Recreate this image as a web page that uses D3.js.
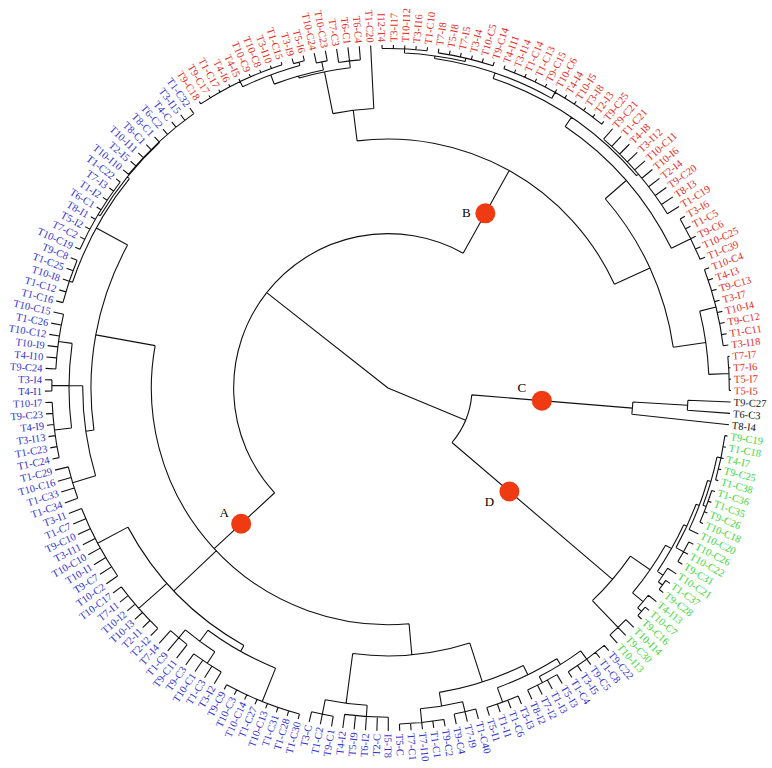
<!DOCTYPE html>
<html>
<head>
<meta charset="utf-8">
<script src="https://cdn.jsdelivr.net/npm/d3@7"></script>
<style>
  body { margin: 0; background: #fff; }
  text { font-family: 'Liberation Serif', 'Times New Roman', serif; }
</style>
</head>
<body>
<div id="chart"></div>
<script>
(function () {

  // Clades written as nested groups; the number after ")" is the node's
  // distance from the root (0 = root, 100 = leaf tips)
  var cladeA = `(
    (
      (
        (((T9-C22,T1-C8,T9-C5,T3-I5,T1-C4)98,(T5-I3,T1-I3,T7-I2,T8-I2)97)95,(T3-I3,T1-C6,T1-I1,T5-I1)97.5)93,
        ((T1-C40,T7-I9,T9-C4)97,(T9-C2,T1-C1,T7-I10,T7-C1,T5-C)98)94
      )90,
      ((I5-T8,T2-C,T6-I2,T5-I9,T4-I2)96,(T9-C1,T1-C2,T3-C)97)92.7
    )78.1,
    (
      (
        (T1-C30,T1-C28,T1-C31,T10-C13,T1-C27,T10-C14,T10-C3,T9-C9)98.5,
        ((T3-I2,T1-C3,T10-C1,T9-C3)96,(T9-C11,T1-C9,T7-I4)95)92
      )88,
      (T2-I2,T2-I1,T10-I3,T10-I2,T7-I1,T10-C17)97,
      (T10-C2,T9-C7,T10-I1,T10-C10,T3-I11,T9-C10,T1-C7,T3-I1)96
    )86,
    (
      (
        (T1-C34,T1-C33,T10-C16,T1-C29)96,
        ((T1-C24,T1-C23,T3-I13,T4-I9,T9-C23,T10-I7)98,(T4-I1,T3-I4)98,(T9-C24,T4-I10,T10-I9,T10-C12,T1-C26,T10-C15)97)93
      )89,
      (
        (T1-C16,T1-C12,T10-I8,T1-C25,T9-C8)98,
        ((T10-C19,T7-C2,T5-I2,T8-I1,T6-C1,T1-I2,T7-I3,T1-C22)98.5,(T10-I10,T2-I5,T10-I11,T8-C1,T8-C1,T6-C2,T4-C,T3-I15,T1-C32)98)97.8
      )97
    )86.6
  )69`

  var cladeB = `(
    (
      (
        (
          ((T9-C18,T9-C17,T1-C17,T4-I6,T4-I5,T10-C9,T10-C8,T3-I10,T1-C15)99.2,(T3-I9,T5-I6)98.5)97.5,
          (T10-C24,T10-C23)97
        )94.6,
        (T7-C3,T6-C1,T6-C4)96
      )94,
      T1-C20
    )81.6,
    (
      (
        (
          (
            ((I12-T4,T3-I17,T10-I12,T3-I16,T1-C10)99,(T7-I8,T5-I8,T7-I5,T3-I4,T10-C5,T9-C14)98.8)97.8,
            (T4-I11,T3-I14,T1-C14,T1-C13,T9-C15,T10-C6,T4-I4,T10-I5,T3-I8,T2-I3,T9-C25)99
          )97,
          (T9-C21,T1-C21,T4-I8,T3-I12,T10-C11,T10-I6,T2-I4,T9-C20,T8-I3,T1-C19)96
        )95.3,
        (T3-I6,T1-C5,T9-C6,T10-C25,T1-C39)98.4
      )92.1,
      ((T10-C4,T4-I3,T9-C13,T3-I7,T10-I4,T9-C12,T1-C11,T3-I18)98.5,(T7-I7,T7-I6,T5-I7,T5-I5)99.5)93.6
    )84
  )72.6`

  var cladeC = `((T9-C27,T6-C3)87.5,T8-I4)71.5`

  var cladeD = `(
    (
      (
        (
          (((T9-C19,T1-C18,T4-I7,T9-C25,T1-C38)99.2,(T1-C36,T1-C35,T9-C26,T10-C18)99)98,T10-C20)97,
          (T10-C26,T10-C22,T9-C31)98.5
        )96,
        (T10-C21,(T1-C37,T9-C28)98.5)97
      )95,
      (T4-I13,(T10-C7,T9-C16)98.5)97
    )93,
    (T10-I14,T9-C30,T10-I13)96.8
  )86`

  var cladeNames  = ['A', 'B', 'C', 'D']
  var cladeColors = ['#3232cf', '#e42b24', '#111111', '#3cd63c']
  var joinDist    = {root: 0, AB: 45, CD: 24.5}

  // red dots on the four main branches, at a distance from the root
  var markerClade = ['A', 'B', 'C', 'D']
  var markerDist  = [58.3, 58.3, 45, 46.5]

  var width = 772, height = 768
  var cx = 388, cy = 388, leafRadius = 343
  var startAngle = 139

  function parseTree (src) {
    var s = src.replace(/\s+/g, ''), i = 0
    function num () {
      var m = /^[0-9.]+/.exec(s.slice(i)); i += m[0].length; return +m[0]
    }
    function node () {
      if (s[i] === '(') {
        i++
        var kids = [node()]
        while (s[i] === ',') { i++; kids.push(node()) }
        i++
        return {dist: num(), children: kids}
      }
      var m = /^[^,():]+/.exec(s.slice(i)); i += m[0].length
      var dist = 100
      if (s[i] === ':') { i++; dist = num() }
      return {name: m[0], dist: dist}
    }
    return node()
  }

  var clades = [cladeA, cladeB, cladeC, cladeD].map(function (src, k) {
    var t = parseTree(src)
    t.clade = cladeNames[k]
    return t
  })

  var rootData = {dist: joinDist.root, children: [
    {dist: joinDist.AB, children: [clades[0], clades[1]]},
    {dist: joinDist.CD, children: [clades[2], clades[3]]}
  ]}

  var root = d3.hierarchy(rootData)
  d3.cluster()
    .size([360, 1])
    .separation(function () { return 1 })(root)

  // colour each node by the clade it sits in
  root.each(function (d) {
    d.colorIndex = d.data.clade ? cladeNames.indexOf(d.data.clade) : (d.parent ? d.parent.colorIndex : -1)
  })

  var rScale = d3.scaleLinear().domain([0, 100]).range([0, leafRadius])

  function angle (d) { return (d.x + startAngle) % 360 }
  function toRad (deg) { return (deg - 90) * Math.PI / 180 }
  function px (deg, r) { return [cx + r * Math.cos(toRad(deg)), cy + r * Math.sin(toRad(deg))] }

  var svg = d3.select('#chart').append('svg')
    .attr('width', width)
    .attr('height', height)

  var g = svg.append('g')

  // arcs joining children, and radial branches
  var path = d3.path()
  root.each(function (d) {
    var r = rScale(d.data.dist)
    if (d.children && r > 0) {
      var a0 = d.children[0].x + startAngle
      var a1 = d.children[d.children.length - 1].x + startAngle
      var p0 = px(a0, r)
      path.moveTo(p0[0], p0[1])
      path.arc(cx, cy, r, toRad(a0), toRad(a1))
    }
    if (d.parent) {
      var from = px(angle(d), rScale(d.parent.data.dist))
      var to = px(angle(d), r)
      path.moveTo(from[0], from[1])
      path.lineTo(to[0], to[1])
    }
  })

  g.append('path')
    .attr('d', path.toString())
    .attr('fill', 'none')
    .attr('stroke', '#111')
    .attr('stroke-width', 1.1)

  // leaf labels
  g.selectAll('text.leaf')
    .data(root.leaves())
    .enter().append('text')
    .attr('class', 'leaf')
    .attr('font-size', 10.5)
    .attr('dy', '0.35em')
    .attr('fill', function (d) { return cladeColors[d.colorIndex] })
    .attr('text-anchor', function (d) { return angle(d) > 180 ? 'end' : 'start' })
    .attr('transform', function (d) {
      var a = angle(d)
      return 'rotate(' + (a - 90) + ',' + cx + ',' + cy + ') translate(' + (cx + rScale(d.data.dist) + 3) + ',' + cy + ')' +
        (a > 180 ? ' rotate(180)' : '')
    })
    .text(function (d) { return d.data.name })

  // markers
  var labelOffset = {A: [-17, -11], B: [-19, -1], C: [-20, -13], D: [-20, 10]}
  markerClade.forEach(function (name, k) {
    var node = root.descendants().find(function (d) { return d.data.clade === name })
    var p = px(angle(node), rScale(markerDist[k]))
    g.append('circle')
      .attr('cx', p[0])
      .attr('cy', p[1])
      .attr('r', 10)
      .attr('fill', '#ef3a12')
    g.append('text')
      .attr('x', p[0] + labelOffset[name][0])
      .attr('y', p[1] + labelOffset[name][1])
      .attr('font-size', 13)
      .attr('text-anchor', 'middle')
      .attr('dy', '0.35em')
      .text(name)
  })

})()
</script>
</body>
</html>
